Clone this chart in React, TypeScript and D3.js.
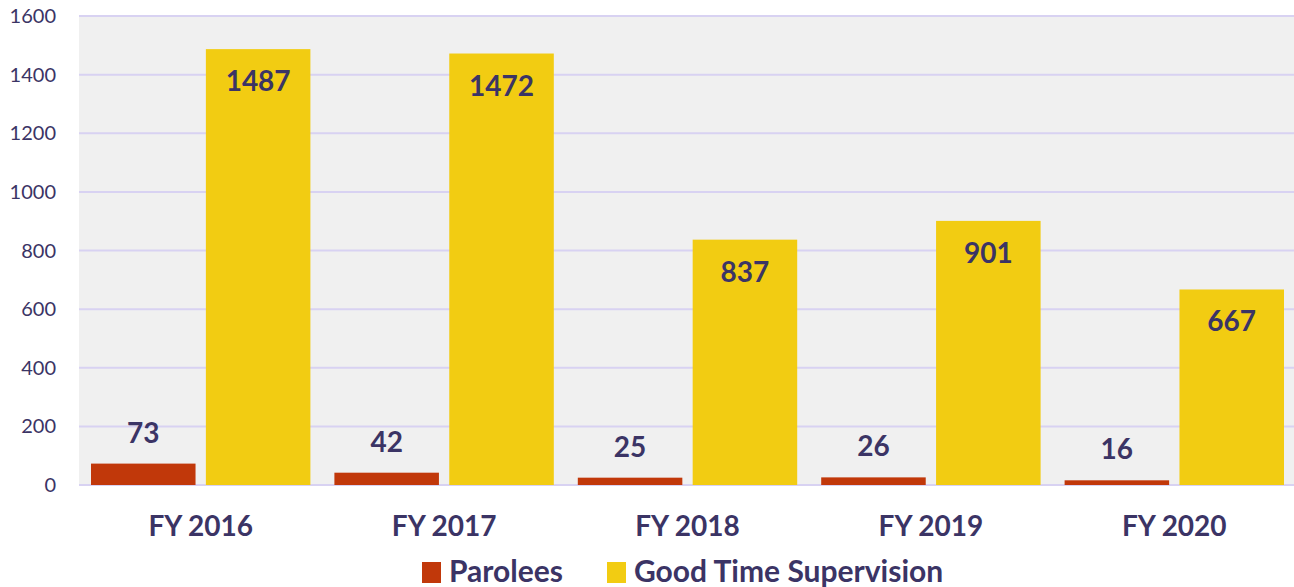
import React, { useEffect, useRef } from 'react';
import * as d3 from 'd3';

const years = ['FY 2016', 'FY 2017', 'FY 2018', 'FY 2019', 'FY 2020'];
const parolees = [73, 42, 25, 26, 16];
const goodTime = [1487, 1472, 837, 901, 667];
const yTicks = [0, 200, 400, 600, 800, 1000, 1200, 1400, 1600];
const seriesNames = ['Parolees', 'Good Time Supervision'];

const TEXT = '#3b3465';
const COLORS = ['#c1380a', '#f2cc12'];
const FONT = 'Lato, "Open Sans", sans-serif';

const App = () => {
  const svgRef = useRef<SVGSVGElement>(null);

  useEffect(() => {
    const w = 1294;
    const h = 587;
    const left = 79;
    const right = 1296;
    const top = 16;
    const bottom = 485;

    const svg = d3.select(svgRef.current).attr('width', w).attr('height', h);
    svg.selectAll('*').remove();

    const x = d3.scaleBand().domain(years).range([left, right]).paddingInner(0).paddingOuter(0);
    const inner = d3.scaleBand().domain(seriesNames).range([12, x.bandwidth() - 12]).paddingInner(0.09);
    const y = d3.scaleLinear().domain([0, 1600]).range([bottom, top]);

    svg.append('rect')
      .attr('x', left).attr('y', top)
      .attr('width', right - left).attr('height', bottom - top)
      .attr('fill', '#f0f0f0');

    svg.append('g').selectAll('line')
      .data(yTicks)
      .enter()
      .append('line')
      .attr('x1', left).attr('x2', right)
      .attr('y1', (d) => y(d)).attr('y2', (d) => y(d))
      .attr('stroke', '#d8d2f2')
      .attr('stroke-width', 2);

    // y axis labels
    svg.append('g').selectAll('text')
      .data(yTicks)
      .enter()
      .append('text')
      .text((d) => d)
      .attr('x', 56)
      .attr('y', (d) => y(d) + 7)
      .attr('text-anchor', 'end')
      .attr('font-family', FONT)
      .attr('font-size', 20)
      .attr('fill', TEXT);

    const series = [parolees, goodTime];
    series.forEach((vals, si) => {
      const g = svg.append('g');
      g.selectAll('rect')
        .data(vals)
        .enter()
        .append('rect')
        .attr('x', (_d, i) => x(years[i])! + inner(seriesNames[si])!)
        .attr('width', inner.bandwidth())
        .attr('y', (d) => y(d))
        .attr('height', (d) => bottom - y(d))
        .attr('fill', COLORS[si]);

      g.selectAll('text')
        .data(vals)
        .enter()
        .append('text')
        .text((d) => d)
        .attr('x', (_d, i) => x(years[i])! + inner(seriesNames[si])! + inner.bandwidth() / 2)
        .attr('y', (d) => (si === 0 ? y(d) - 21 : y(d) + 42))
        .attr('text-anchor', 'middle')
        .attr('font-family', FONT)
        .attr('font-weight', 'bold')
        .attr('font-size', 28)
        .attr('fill', TEXT);
    });

    // category labels
    svg.append('g').selectAll('text')
      .data(years)
      .enter()
      .append('text')
      .text((d) => d)
      .attr('x', (d) => x(d)! + x.bandwidth() / 2)
      .attr('y', 536)
      .attr('text-anchor', 'middle')
      .attr('font-family', FONT)
      .attr('font-weight', 'bold')
      .attr('font-size', 28)
      .attr('fill', TEXT);

    // legend
    const legendX = [422, 607];
    const legend = svg.append('g');
    seriesNames.forEach((name, i) => {
      legend.append('rect')
        .attr('x', legendX[i]).attr('y', 562)
        .attr('width', 19).attr('height', 21)
        .attr('fill', COLORS[i]);
      legend.append('text')
        .text(name)
        .attr('x', legendX[i] + 27)
        .attr('y', 582)
        .attr('font-family', FONT)
        .attr('font-weight', 'bold')
        .attr('font-size', 30)
        .attr('fill', TEXT);
    });
  }, []);

  return (
    <div style={{ position: 'absolute', left: 0, top: 0 }}>
      <svg ref={svgRef}></svg>
    </div>
  );
};

export default App;
